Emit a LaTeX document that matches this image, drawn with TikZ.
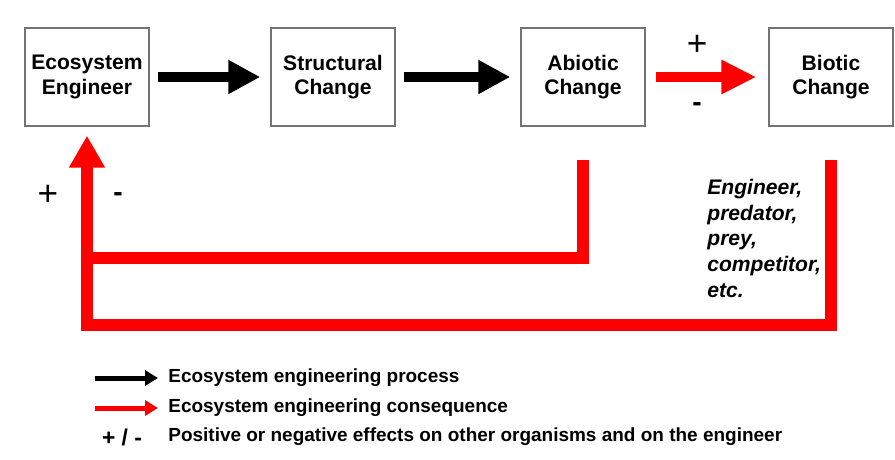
\documentclass[tikz,border=0pt]{standalone}
\usepackage{fontspec}
\setmainfont{Liberation Sans}
\usepackage{tikz}
\usetikzlibrary{arrows.meta,   % pointes de fleches
           positioning}
\definecolor{rg}{RGB}{255,0,0}

\begin{document}
\begin{tikzpicture}[x=0.2mm,y=-0.2mm,
  boite/.style={draw=black!55,line width=0.8pt,minimum width=2.48cm,minimum height=1.96cm,
    inner sep=0pt,align=center,font=\bfseries\fontsize{12}{14}\selectfont},
  noire/.style={line width=0.2cm,-{Triangle[length=0.64cm,width=0.64cm]},
    shorten <=0.16cm,shorten >=0.2cm},
  rouge/.style={rg,line width=0.24cm,line join=miter},
  signe/.style={inner sep=0pt,font=\fontsize{20}{20}\selectfont},
  legende/.style={inner sep=0pt,anchor=west,font=\bfseries\fontsize{10.8}{12}\selectfont},
  petite/.style={line width=0.1cm,-{Triangle[length=0.26cm,width=0.3cm]},shorten >=0.2cm}]
\useasboundingbox (0,0) rectangle (895,459);
\node[boite] (eng) at (87,77) {Ecosystem\\Engineer};
\node[boite] (str) at (333,77) {Structural\\Change};
\node[boite] (abio) at (583,77) {Abiotic\\Change};
\node[boite] (bio) at (831,77) {Biotic\\Change};
\draw[noire] (eng.east) -- (str.west);
\draw[noire] (str.east) -- (abio.west);
\draw[rouge,-{Triangle[length=0.7cm,width=0.64cm]},line width=0.2cm,
  shorten <=0.2cm,shorten >=0.24cm] (abio.east) -- (bio.west);
\node[signe] (plusA) at (697,45) {+};
\node[signe,font=\bfseries\fontsize{16}{16}\selectfont] (moinsA) at (697,107) {-};
% boucles de retour
\coordinate (barA) at (0,258);
\coordinate (barB) at (0,325);
\draw[rouge] ([yshift=-0.66cm]abio.south) |- (eng.south|-barA);
\draw[rouge,-{Triangle[length=0.64cm,width=0.68cm]},shorten >=0.18cm]
  ([yshift=-0.66cm]bio.south) |- (eng.south|-barB) -- (eng.south);
\node[signe] (plusB) at (48,195) {+};
\node[signe,font=\bfseries\fontsize{16}{16}\selectfont] (moinsB) at (118,197) {-};
\node[anchor=north west,inner sep=0pt,align=left,
  font=\bfseries\itshape\fontsize{12}{14.6}\selectfont] (roles) at (707,179)
  {Engineer,\\predator,\\prey,\\competitor,\\etc.};
% legende
\node[legende] (lgA) at (168,378) {Ecosystem engineering process};
\node[legende] (lgB) at (168,408) {Ecosystem engineering consequence};
\node[legende] (lgC) at (168,437) {Positive or negative effects on other organisms and on the engineer};
\coordinate (lgAs) at (95,378);
\coordinate (lgBs) at (95,408);
\draw[petite] (lgAs) -- (lgA.west);
\draw[petite,rg] (lgBs) -- (lgB.west);
\node[legende,anchor=center,font=\bfseries\fontsize{13}{13}\selectfont] (lgCs) at (122,437) {+ / -};
\end{tikzpicture}
\end{document}
